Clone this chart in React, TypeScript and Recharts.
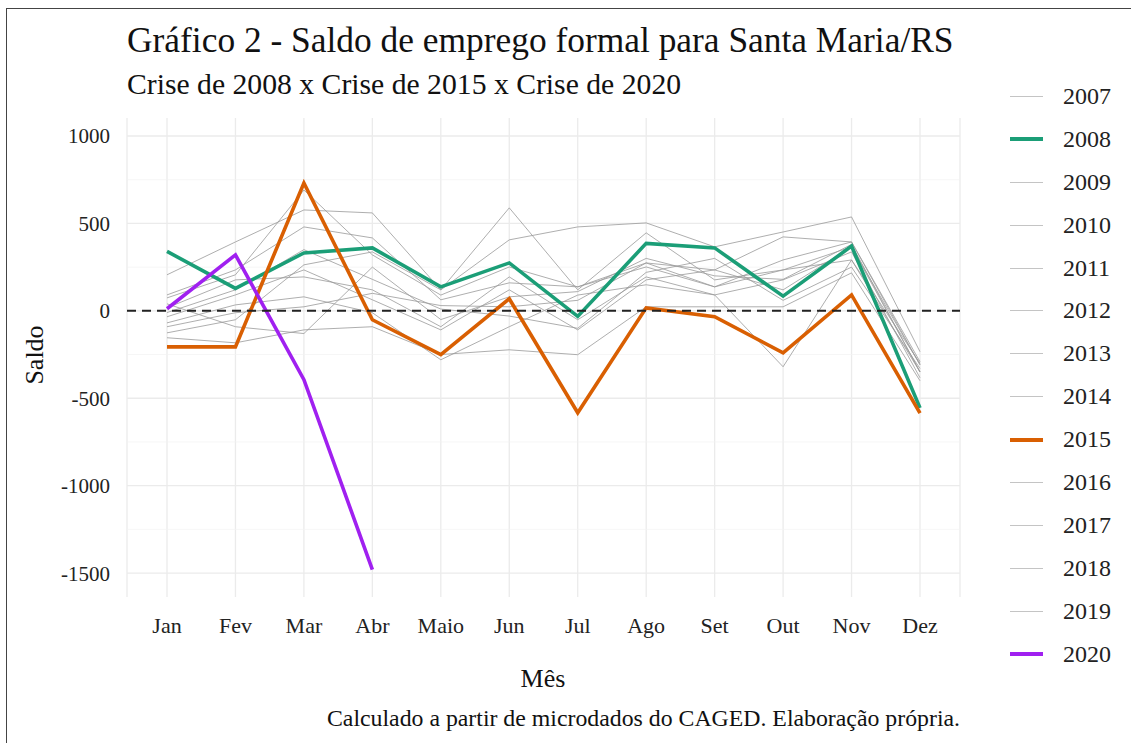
import { LineChart, Line, XAxis, YAxis, CartesianGrid, ReferenceLine } from "recharts";

const months = ["Jan", "Fev", "Mar", "Abr", "Maio", "Jun", "Jul", "Ago", "Set", "Out", "Nov", "Dez"];
const years = ["2007", "2008", "2009", "2010", "2011", "2012", "2013", "2014", "2015", "2016", "2017", "2018", "2019", "2020"];

// anos de crise em destaque
const y2008 = [340, 128, 331, 360, 137, 274, -32, 386, 360, 84, 370, -555];
const y2015 = [-206, -206, 731, -51, -251, 69, -583, 17, -34, -240, 91, -585];
const y2020 = [12, 320, -394, -1480];

// demais anos (cinza)
const y2007 = [91, 234, 480, 417, 63, 160, 137, 274, 234, 423, 394, -291];
const y2009 = [-126, -51, 263, 337, 120, 589, 120, 446, 177, 234, 366, -349];
const y2010 = [206, 394, 577, 560, 120, 406, 480, 503, 366, 451, 537, -234];
const y2011 = [74, 206, 691, 320, 90, 251, 137, 251, 137, 291, 394, -309];
const y2012 = [17, 177, 194, 120, -91, 194, -51, 194, 91, 177, 337, -383];
const y2013 = [-34, 91, 234, 63, -109, 120, -109, 177, 234, 120, 366, -309];
const y2014 = [-69, 34, 80, -11, -280, -91, 90, 149, 91, -320, 291, -350];
const y2016 = [-154, -183, -109, -91, -250, -223, -251, 23, 23, 23, 217, -400];
const y2017 = [-91, -11, 23, 100, 30, 23, 60, 274, 137, 234, 291, -300];
const y2018 = [40, -91, -130, 250, -50, 80, 110, 300, 200, 180, 380, -350];
const y2019 = [-10, 120, 350, 180, 10, -30, -100, 220, 300, 60, 250, -330];

const yTicks = [-1500, -1000, -500, 0, 500, 1000];
const minorTicks = [-1250, -750, -250, 250, 750];

const byYear: Record<string, number[]> = {
  "2007": y2007, "2008": y2008, "2009": y2009, "2010": y2010, "2011": y2011,
  "2012": y2012, "2013": y2013, "2014": y2014, "2015": y2015, "2016": y2016,
  "2017": y2017, "2018": y2018, "2019": y2019, "2020": y2020,
};

const highlight: Record<string, string> = { "2008": "#1b9e77", "2015": "#d95f02", "2020": "#a020f0" };

const data = months.map((m, i) => {
  const row: any = { mes: m };
  years.forEach((y) => {
    row[y] = byYear[y][i];
  });
  return row;
});

const serif = "'Liberation Serif', 'Times New Roman', serif";
const grayYears = years.filter((y) => !highlight[y]);
const hiYears = years.filter((y) => highlight[y]);

export default function App() {
  return (
    <div style={{ position: "absolute", left: 0, top: 0, width: 1131, height: 743, background: "#fff", fontFamily: serif, color: "#111", overflow: "hidden" }}>
      <div style={{ position: "absolute", left: 6, top: 8, right: -10, bottom: -10, borderLeft: "1.5px solid #444", borderTop: "1.5px solid #444" }} />
      <div style={{ position: "absolute", left: 127, top: 20, fontSize: 35.4, lineHeight: "40px", whiteSpace: "nowrap" }}>
        Gráfico 2 - Saldo de emprego formal para Santa Maria/RS
      </div>
      <div style={{ position: "absolute", left: 127, top: 67, fontSize: 29.7, lineHeight: "34px", whiteSpace: "nowrap" }}>
        Crise de 2008 x Crise de 2015 x Crise de 2020
      </div>
      <LineChart width={1131} height={743} data={data} margin={{ top: 118, right: 171, bottom: 106, left: 67 }}>
        <CartesianGrid stroke="#ebebeb" strokeWidth={1.3} horizontalValues={yTicks} />
        <CartesianGrid stroke="#f2f2f2" strokeWidth={0.7} horizontalValues={minorTicks} vertical={false} />
        <XAxis
          dataKey="mes"
          axisLine={false}
          tickLine={false}
          interval={0}
          padding={{ left: 40, right: 40 }}
          tickMargin={14}
          height={40}
          tick={{ fill: "#222", fontSize: 22, fontFamily: serif }}
        />
        <YAxis
          type="number"
          domain={[-1637, 1103]}
          ticks={yTicks}
          allowDataOverflow
          axisLine={false}
          tickLine={false}
          tickSize={0}
          tickMargin={17}
          width={60}
          tick={{ fill: "#222", fontSize: 21, fontFamily: serif }}
        />
        {grayYears.map((y) => (
          <Line key={y} dataKey={y} stroke="#999" strokeWidth={0.8} dot={false} isAnimationActive={false} />
        ))}
        {hiYears.map((y) => (
          <Line key={y} dataKey={y} stroke={highlight[y]} strokeWidth={3.6} dot={false} isAnimationActive={false} />
        ))}
        <ReferenceLine y={0} stroke="#222" strokeWidth={2} strokeDasharray="9 6" />
      </LineChart>
      <div style={{ position: "absolute", left: 35, top: 355, transform: "translate(-50%, -50%) rotate(-90deg)", transformOrigin: "center", fontSize: 26, whiteSpace: "nowrap" }}>
        Saldo
      </div>
      <div style={{ position: "absolute", left: 543, top: 664, transform: "translateX(-50%)", fontSize: 26, lineHeight: "30px", whiteSpace: "nowrap" }}>
        Mês
      </div>
      <div style={{ position: "absolute", right: 171, top: 704, fontSize: 23.8, lineHeight: "28px", whiteSpace: "nowrap" }}>
        Calculado a partir de microdados do CAGED. Elaboração própria.
      </div>
      <div style={{ position: "absolute", left: 1010, top: 75 }}>
        {years.map((y) => (
          <div key={y} style={{ display: "flex", alignItems: "center", height: 42.9 }}>
            <div style={{ width: 33, height: highlight[y] ? 4 : 1, background: highlight[y] || "#c4c4c4" }} />
            <span style={{ marginLeft: 20, fontSize: 24, color: "#222" }}>{y}</span>
          </div>
        ))}
      </div>
    </div>
  );
}
